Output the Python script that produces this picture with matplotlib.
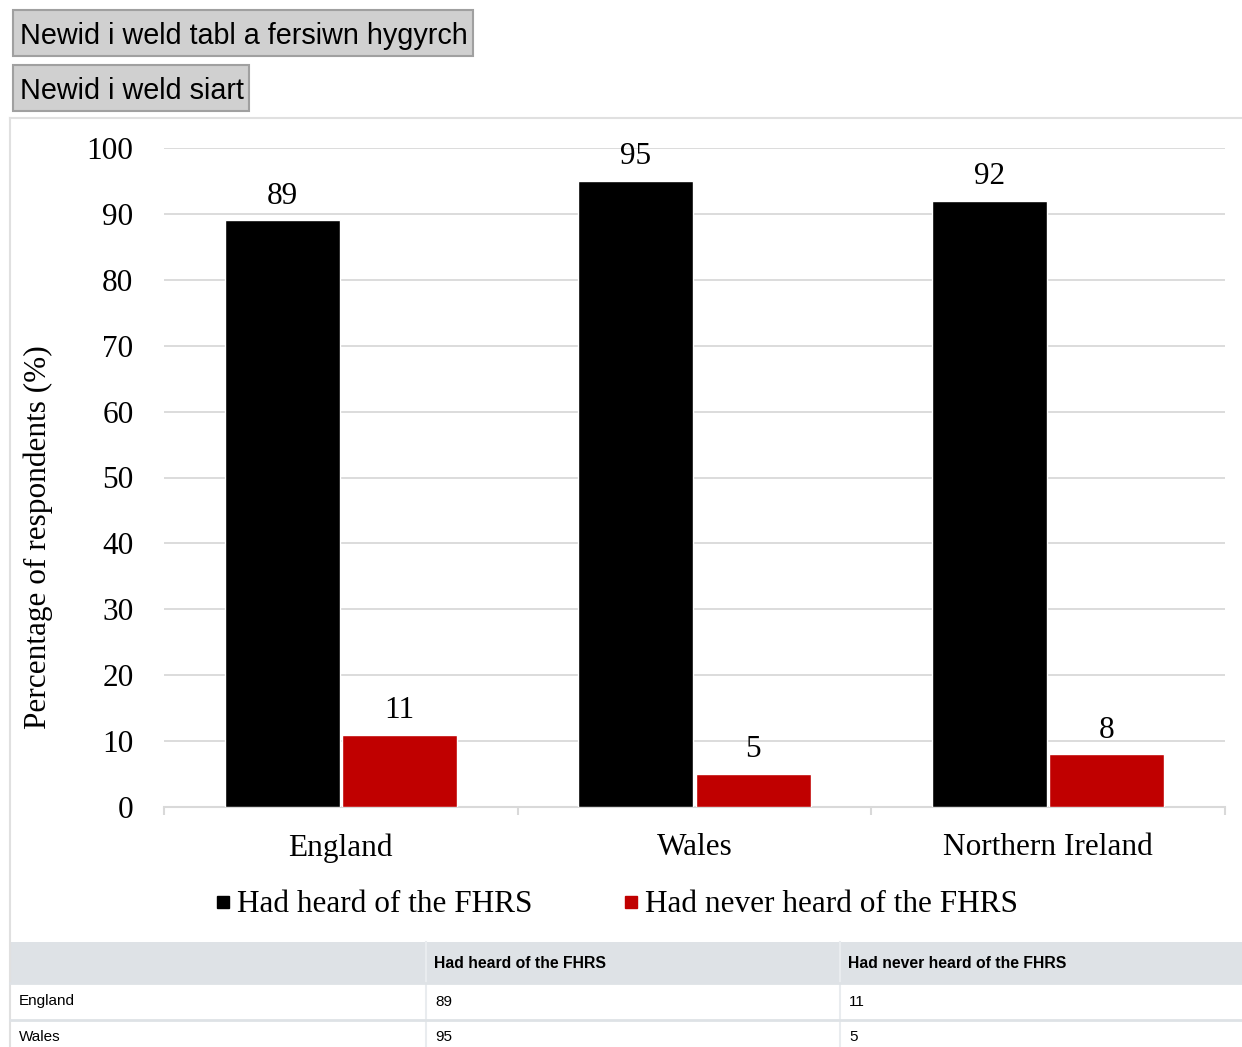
import matplotlib
matplotlib.use("Agg")
import matplotlib.pyplot as plt
import matplotlib.patches as patches
from matplotlib.lines import Line2D

# Data
countries = ["England", "Wales", "Northern Ireland"]
heard = [89, 95, 92]
never_heard = [11, 5, 8]
series_names = ["Had heard of the FHRS", "Had never heard of the FHRS"]
y_ticks = [0, 10, 20, 30, 40, 50, 60, 70, 80, 90, 100]
buttons = ["Newid i weld tabl a fersiwn hygyrch", "Newid i weld siart"]

W, H = 1242, 1047
GRID = "#d9d9d9"
BLACK = "#000000"
RED = "#c00000"
SERIF = "Liberation Serif"
FS = 22.5


def fx(x):
    return x / W


def fy(y):
    return 1 - y / H


fig = plt.figure(figsize=(W / 100, H / 100), dpi=100)

# Buttons at the top
button_boxes = [(13, 10, 473, 56), (13, 65, 249, 111)]
for label, (x0, y0, x1, y1) in zip(buttons, button_boxes):
    fig.patches.append(patches.Rectangle((fx(x0), fy(y1)), fx(x1 - x0), (y1 - y0) / H,
                                         transform=fig.transFigure, facecolor="#d0d0d0",
                                         edgecolor="#a0a0a0", linewidth=1.5))
    fig.text(fx(x0 + 7), fy((y0 + y1) / 2 + 3), label, family="Liberation Sans",
             fontsize=20.7, va="center", ha="left")

# Chart frame
fig.add_artist(Line2D([fx(10), fx(10)], [fy(118), 0], transform=fig.transFigure,
                      color="#e0e0e0", linewidth=1.5))
fig.add_artist(Line2D([fx(10), 1], [fy(118), fy(118)], transform=fig.transFigure,
                      color="#e0e0e0", linewidth=1.5))

# Chart axes
ax = fig.add_axes([fx(164), fy(807), fx(1225 - 164), (807 - 148) / H])
x = range(len(countries))
offset = 0.166
width = 0.325
b1 = ax.bar([i - offset for i in x], heard, width, color=BLACK, edgecolor="white",
            linewidth=1, zorder=3)
b2 = ax.bar([i + offset for i in x], never_heard, width, color=RED, edgecolor="white",
            linewidth=1, zorder=3)
for bars in (b1, b2):
    ax.bar_label(bars, padding=7, fontsize=FS, family=SERIF)

ax.set_xlim(-0.5, len(countries) - 0.5)
ax.set_ylim(0, 100)
ax.set_yticks(y_ticks)
ax.set_yticklabels([str(t) for t in y_ticks], family=SERIF, fontsize=FS)
ax.tick_params(axis="y", length=0, pad=22)
ax.grid(axis="y", color=GRID, linewidth=1.3, zorder=0)
ax.set_axisbelow(True)

ax.set_xticks([i - 0.5 for i in range(len(countries) + 1)])
ax.set_xticklabels([])
ax.tick_params(axis="x", which="major", length=6, width=1.5, color=GRID, direction="out")
ax.set_xticks(list(x), minor=True)
ax.set_xticklabels(countries, minor=True, family=SERIF, fontsize=FS)
ax.tick_params(axis="x", which="minor", length=0, pad=19)

for side in ("top", "right", "left"):
    ax.spines[side].set_visible(False)
ax.spines["bottom"].set_color(GRID)
ax.spines["bottom"].set_linewidth(1.5)

fig.text(fx(38), fy((348 + 727) / 2), "Percentage of respondents (%)", rotation=90,
         family=SERIF, fontsize=FS, ha="center", va="center")

handles = [Line2D([], [], marker="s", linestyle="", color=c, markersize=8)
           for c in (BLACK, RED)]
fig.legend(handles, series_names, loc="center", bbox_to_anchor=(fx(617), fy(905)),
           ncol=2, frameon=False, handlelength=0.5, handletextpad=0.2,
           columnspacing=2.9, prop={"family": SERIF, "size": FS})

# Data table below the chart (only the rows that fit in the visible area)
col_x = [10, 426, 840, W]
row_y = [942, 983, 1020, 1054]
fig.patches.append(patches.Rectangle((fx(10), fy(983)), fx(W - 10), (983 - 942) / H,
                                     transform=fig.transFigure, facecolor="#dee2e6",
                                     edgecolor="none"))
for cx in col_x[1:-1]:
    fig.add_artist(Line2D([fx(cx), fx(cx)], [fy(942), 0], transform=fig.transFigure,
                          color="#e9ecef", linewidth=1.5))
for ry in row_y[1:3]:
    fig.add_artist(Line2D([fx(10), 1], [fy(ry), fy(ry)], transform=fig.transFigure,
                          color="#dee2e6", linewidth=2))

for j, name in enumerate(series_names):
    fig.text(fx(col_x[j + 1] + 8), fy(963), name, family="Liberation Sans",
             fontsize=11.3, fontweight="bold", va="center", ha="left")
rows = list(zip(countries, heard, never_heard))
for r, (name, h, n) in enumerate(rows[:len(row_y) - 2]):
    yc = (row_y[r + 1] + row_y[r + 2]) / 2
    for j, val in enumerate((name, h, n)):
        fig.text(fx(col_x[j] + 9), fy(yc), str(val), family="Liberation Sans",
                 fontsize=11, va="center", ha="left")

fig.savefig("out.png", dpi=100)
